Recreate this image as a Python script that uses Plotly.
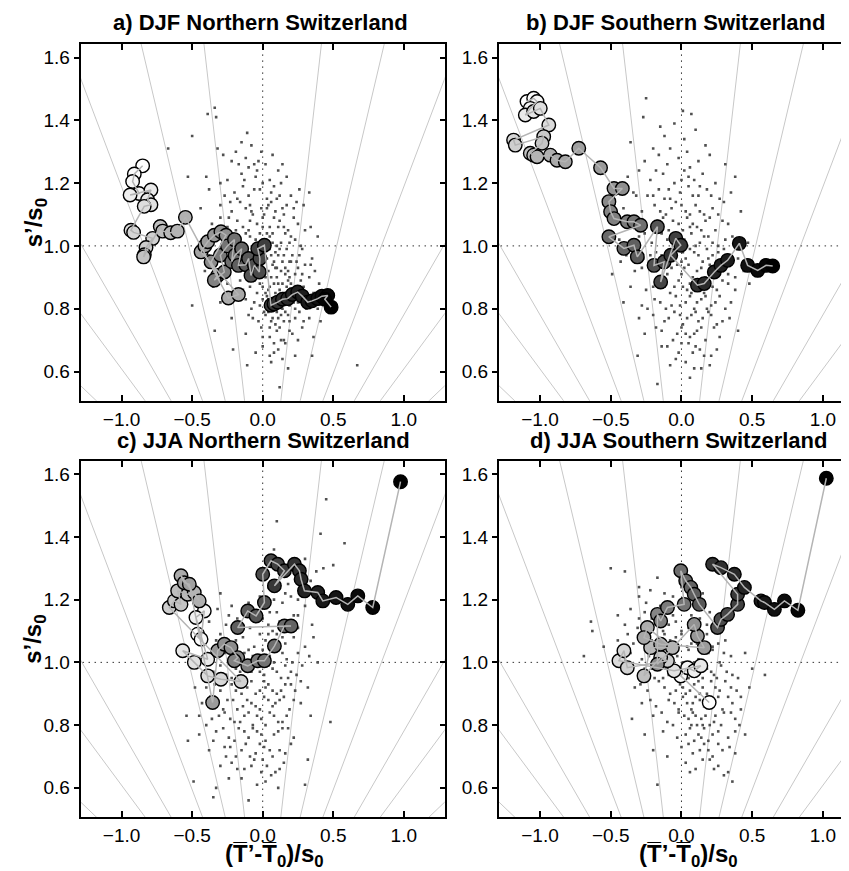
import plotly.graph_objects as go
from statistics import NormalDist

# ---------------- data ----------------
panel_titles = ["a) DJF Northern Switzerland", "b) DJF Southern Switzerland",
                "c) JJA Northern Switzerland", "d) JJA Southern Switzerland"]
x_ticks = [-1.0, -0.5, 0.0, 0.5, 1.0]
y_ticks = [0.6, 0.8, 1.0, 1.2, 1.4, 1.6]
quantile_probs = [0.6, 0.7, 0.8, 0.9, 0.95, 0.99]

# trajectories (ordered in time: first = white, last = black)
traj_a = [(-0.851,1.255),(-0.910,1.229),(-0.922,1.205),(-0.876,1.167),(-0.940,1.162),(-0.792,1.178),
          (-0.816,1.147),(-0.792,1.131),(-0.840,1.126),(-0.934,1.050),(-0.915,1.043),(-0.780,1.024),
          (-0.827,0.995),(-0.839,0.972),(-0.844,0.965),(-0.726,1.062),(-0.709,1.047),(-0.652,1.042),
          (-0.605,1.047),(-0.548,1.091),(-0.243,0.834),(-0.172,0.845),(-0.437,0.981),(-0.410,1.000),
          (-0.390,1.013),(-0.343,1.034),(-0.296,1.045),(-0.260,1.034),(-0.366,0.949),(-0.319,0.906),
          (-0.343,0.891),(-0.272,0.917),(-0.300,0.970),(-0.250,1.000),(-0.200,1.020),(-0.220,0.950),
          (-0.196,0.970),(-0.149,0.991),(-0.172,0.938),(-0.120,0.940),(-0.100,0.960),(-0.083,0.906),
          (-0.059,0.938),(-0.024,0.917),(-0.020,0.960),(-0.035,0.991),(0.012,1.002),(0.059,0.811),
          (0.080,0.815),(0.106,0.821),(0.140,0.830),(0.177,0.832),(0.210,0.845),(0.248,0.853),
          (0.280,0.840),(0.319,0.821),(0.350,0.825),(0.390,0.832),(0.420,0.840),(0.461,0.842),
          (0.440,0.830),(0.485,0.805)]
traj_b = [(-1.092,1.460),(-1.045,1.470),(-1.021,1.460),(-1.069,1.438),(-1.104,1.417),(-1.045,1.428),
          (-0.998,1.438),(-0.938,1.385),(-1.187,1.337),(-1.175,1.321),(-0.974,1.348),(-0.986,1.327),
          (-1.069,1.295),(-1.045,1.289),(-1.021,1.284),(-0.927,1.289),(-0.880,1.273),(-0.821,1.268),
          (-0.726,1.311),(-0.572,1.249),(-0.477,1.183),(-0.418,1.183),(-0.513,1.141),(-0.501,1.109),
          (-0.477,1.087),(-0.383,1.077),(-0.336,1.077),(-0.289,1.066),(-0.513,1.029),(-0.407,0.992),
          (-0.336,1.002),(-0.312,0.965),(-0.170,1.061),(-0.194,0.938),(-0.123,0.949),(-0.147,0.885),
          (-0.040,1.024),(-0.005,1.002),(-0.076,0.970),(0.113,0.875),(0.161,0.880),(0.232,0.917),
          (0.279,0.938),(0.326,0.954),(0.409,1.008),(0.468,0.938),(0.539,0.922),(0.598,0.938),
          (0.645,0.936)]
traj_c = [(-0.461,1.090),(-0.437,1.074),(-0.414,1.164),(-0.473,1.143),(-0.390,1.010),(-0.567,1.037),
          (-0.485,1.000),(-0.390,0.957),(-0.296,0.946),(-0.154,0.939),(-0.662,1.175),(-0.626,1.196),
          (-0.579,1.185),(-0.603,1.228),(-0.532,1.217),(-0.485,1.223),(-0.450,1.196),(-0.579,1.276),
          (-0.556,1.254),(-0.520,1.249),(-0.355,0.872),(-0.319,1.037),(-0.272,1.058),(-0.225,1.047),
          (-0.177,1.015),(-0.201,1.005),(-0.106,0.989),(-0.035,1.005),(0.012,1.005),(0.083,1.052),
          (0.154,1.116),(0.201,1.116),(-0.177,1.111),(-0.106,1.164),(-0.047,1.148),(0.012,1.191),
          (0.000,1.281),(0.059,1.324),(0.106,1.313),(0.154,1.292),(0.083,1.244),(0.225,1.313),
          (0.260,1.292),(0.272,1.265),(0.296,1.228),(0.390,1.223),(0.426,1.196),(0.520,1.207),
          (0.603,1.185),(0.674,1.212),(0.780,1.175),(0.977,1.576)]
traj_d = [(0.196,0.872),(-0.005,0.957),(0.043,0.983),(0.090,0.973),(0.137,0.989),(-0.052,0.973),
          (-0.442,1.005),(-0.407,1.037),(-0.383,0.983),(-0.099,1.005),(-0.147,1.016),(-0.265,0.957),
          (-0.218,1.047),(-0.064,1.047),(-0.241,1.111),(-0.265,1.079),(-0.147,1.058),(0.161,1.047),
          (0.113,1.084),(0.090,1.121),(-0.170,0.994),(-0.170,1.153),(-0.147,1.132),(-0.099,1.175),
          (0.019,1.185),(-0.005,1.292),(0.030,1.260),(0.066,1.239),(0.090,1.217),(0.126,1.185),
          (0.255,1.111),(0.279,1.137),(0.326,1.153),(0.397,1.185),(0.397,1.217),(0.220,1.313),
          (0.279,1.302),(0.374,1.281),(0.445,1.239),(0.562,1.196),(0.587,1.191),(0.657,1.169),
          (0.728,1.196),(0.823,1.166),(1.024,1.587)]

# clouds of individual values
cloud_a = [(-0.39,1.42),(-0.34,1.44),(-0.33,1.41),(-0.50,1.35),(-0.11,1.36),(-0.15,1.33),(-0.67,1.31),
 (-0.32,1.31),(-0.19,1.30),(-0.08,1.32),(-0.28,1.29),(-0.12,1.28),(-0.03,1.27),(-0.1,1.25),(-0.06,1.26),
 (0.02,1.26),(-0.22,1.27),(0.11,1.24),(-0.53,1.22),(-0.4,1.22),(-0.25,1.21),(-0.15,1.23),(-0.05,1.22),
 (0.0,1.2),(0.05,1.21),(0.17,1.22),(0.13,1.2),(-0.3,1.2),(-0.38,1.18),(-0.2,1.17),(-0.1,1.16),(-0.02,1.18),
 (0.06,1.17),(0.1,1.15),(0.2,1.16),(0.33,1.17),(-0.27,1.16),(0.03,1.15),(-0.14,1.19),(-0.44,1.12),(-0.3,1.13),
 (-0.22,1.11),(-0.16,1.14),(-0.07,1.1),(-0.01,1.12),(0.04,1.13),(0.09,1.11),(0.15,1.1),(0.22,1.12),(0.29,1.13),
 (-0.12,1.12),(0.01,1.1),(-0.36,1.07),(-0.25,1.06),(-0.18,1.08),(-0.1,1.05),(-0.04,1.07),(0.0,1.09),(0.05,1.06),
 (0.12,1.08),(0.18,1.05),(0.25,1.07),(0.34,1.06),(-0.3,1.09),(-0.14,1.06),(0.08,1.09),(0.22,1.09),(-0.43,1.02),
 (-0.31,1.03),(-0.2,1.01),(-0.12,1.04),(-0.06,1.0),(0.02,1.02),(0.07,1.04),(0.13,1.01),(0.2,1.03),(0.27,1.0),
 (0.39,1.03),(-0.16,1.02),(0.1,1.0),(0.16,1.04),(-0.02,1.04),(-0.38,0.97),(-0.27,0.96),(-0.17,0.98),(-0.08,0.95),
 (-0.03,0.99),(0.03,0.96),(0.09,0.98),(0.14,0.95),(0.21,0.97),(0.28,0.99),(0.35,0.96),(0.05,0.99),(0.17,0.99),
 (-0.12,0.96),(0.24,0.95),(0.0,0.97),(-0.41,0.92),(-0.29,0.91),(-0.2,0.93),(-0.1,0.9),(-0.04,0.94),(0.04,0.92),
 (0.1,0.9),(0.16,0.93),(0.23,0.91),(0.3,0.94),(0.37,0.92),(0.07,0.94),(0.13,0.92),(0.19,0.9),(-0.14,0.93),
 (0.01,0.91),(-0.35,0.87),(-0.25,0.88),(-0.14,0.86),(-0.06,0.89),(0.02,0.85),(0.08,0.88),(0.12,0.86),(0.18,0.89),
 (0.24,0.87),(0.31,0.85),(0.4,0.88),(0.05,0.87),(0.15,0.85),(0.21,0.86),(-0.02,0.88),(0.27,0.89),(-0.5,0.81),
 (-0.3,0.82),(-0.18,0.84),(-0.08,0.8),(0.0,0.83),(0.06,0.81),(0.11,0.84),(0.17,0.82),(0.23,0.8),(0.29,0.83),
 (0.36,0.81),(0.44,0.82),(0.14,0.8),(0.03,0.84),(0.2,0.84),(-0.22,0.77),(-0.1,0.78),(-0.03,0.76),(0.04,0.79),
 (0.09,0.75),(0.13,0.78),(0.19,0.76),(0.26,0.79),(0.33,0.77),(0.07,0.77),(0.16,0.79),(0.41,0.76),(-0.34,0.73),
 (-0.12,0.72),(-0.01,0.74),(0.05,0.71),(0.1,0.73),(0.15,0.7),(0.21,0.72),(0.28,0.74),(0.12,0.74),(0.36,0.71),
 (-0.21,0.67),(0.0,0.68),(0.08,0.66),(0.16,0.69),(0.23,0.65),(0.35,0.65),(0.11,0.67),(-0.11,0.62),(0.06,0.63),
 (0.18,0.61),(0.67,0.62),(0.12,0.55),(-0.09,1.08),(0.03,1.04),(0.11,1.06),(-0.05,1.02),(0.06,0.97),(0.12,0.99),
 (-0.01,0.95),(0.15,0.97),(0.09,0.93),(-0.07,0.92),(0.02,0.9),(0.18,0.92),(0.25,0.93),(0.11,0.88),(0.04,0.86),
 (-0.04,0.85),(0.2,0.88),(0.14,0.83),(0.08,0.82),(0.26,0.84),(0.1,0.79),(0.02,0.78),(0.18,0.78),(0.22,0.82),
 (-0.11,0.98),(-0.15,1.0),(-0.09,1.13),(0.06,1.14),(0.0,1.06),(0.14,1.12),(-0.19,1.05),(0.19,1.01),(0.07,1.01),
 (-0.02,0.98),(0.33,0.9),(0.31,0.8),(0.05,0.74),(-0.06,0.82),(0.09,0.85),(0.17,0.87),
 (-0.13,1.21),(-0.04,1.24),(0.08,1.19),(-0.18,1.15),(-0.06,1.18),(0.12,1.16),(0.24,1.14),(-0.24,1.09),
 (-0.08,1.11),(0.03,1.12),(0.17,1.13),(-0.21,1.04),(-0.09,1.03),(0.05,1.03),(0.15,1.06),(0.23,1.02),(0.3,1.05),
 (-0.24,0.99),(-0.14,0.99),(0.02,1.0),(0.11,0.97),(0.19,0.95),(0.26,0.97),(-0.19,0.95),(-0.06,0.97),(0.08,0.95),
 (0.16,0.91),(0.28,0.91),(0.34,0.94),(-0.16,0.89),(-0.09,0.87),(0.0,0.87),(0.06,0.9),(0.14,0.88),(0.22,0.85),
 (0.29,0.87),(0.36,0.85),(-0.12,0.83),(-0.02,0.81),(0.04,0.83),(0.12,0.82),(0.19,0.81),(0.25,0.82),(0.32,0.83),
 (0.39,0.8),(-0.07,0.77),(0.01,0.79),(0.06,0.76),(0.11,0.77),(0.15,0.76),(0.23,0.77),(0.29,0.76),(0.0,0.71),
 (0.08,0.69),(0.13,0.7),(0.19,0.73),(0.25,0.7),(-0.05,0.66),(0.05,0.65),(0.14,0.64),(-0.26,0.9),(-0.33,0.95),
 (-0.23,1.14),(0.26,1.18),(0.14,1.26),(-0.17,1.26),(0.07,1.29),(-0.01,1.3),(0.2,0.95),(0.1,0.93)]
cloud_b = [(-0.25,1.47),(-0.27,1.41),(0.01,1.43),(0.07,1.42),(-0.05,1.39),(-0.12,1.35),(0.1,1.37),(-0.36,1.33),
 (-0.2,1.31),(0.04,1.3),(0.17,1.32),(-0.08,1.31),(-0.26,1.27),(-0.1,1.26),(-0.02,1.28),(0.06,1.25),(0.2,1.29),
 (0.12,1.27),(-0.16,1.29),(0.31,1.26),(-0.38,1.22),(-0.22,1.21),(-0.13,1.23),(-0.05,1.2),(0.02,1.24),(0.09,1.21),
 (0.15,1.23),(0.24,1.2),(-0.3,1.24),(0.38,1.22),(0.0,1.21),(-0.34,1.17),(-0.24,1.16),(-0.16,1.18),(-0.08,1.15),
 (-0.01,1.17),(0.05,1.19),(0.12,1.16),(0.18,1.18),(0.27,1.15),(0.35,1.17),(-0.12,1.15),(0.08,1.16),(-0.41,1.12),
 (-0.28,1.11),(-0.19,1.13),(-0.11,1.1),(-0.04,1.14),(0.03,1.11),(0.1,1.13),(0.16,1.1),(0.22,1.12),(0.3,1.14),
 (-0.07,1.12),(0.06,1.1),(0.42,1.11),(-0.36,1.07),(-0.25,1.06),(-0.17,1.08),(-0.09,1.05),(-0.02,1.07),(0.04,1.09),
 (0.11,1.06),(0.17,1.08),(0.24,1.05),(0.33,1.07),(-0.13,1.09),(0.01,1.05),(0.08,1.07),(0.2,1.09),(-0.44,1.02),
 (-0.3,1.03),(-0.21,1.01),(-0.14,1.04),(-0.06,1.0),(0.02,1.02),(0.07,1.04),(0.13,1.01),(0.19,1.03),(0.26,1.0),
 (0.36,1.03),(0.47,1.01),(-0.03,1.04),(0.1,1.0),(-0.39,0.97),(-0.27,0.96),(-0.18,0.98),(-0.1,0.95),(-0.04,0.99),
 (0.03,0.96),(0.09,0.98),(0.15,0.95),(0.22,0.97),(0.3,0.99),(0.4,0.96),(-0.14,0.97),(0.0,0.95),(0.06,0.99),
 (0.18,0.99),(-0.49,0.91),(-0.33,0.92),(-0.23,0.94),(-0.15,0.9),(-0.07,0.93),(0.0,0.91),(0.05,0.94),(0.11,0.92),
 (0.17,0.9),(0.24,0.93),(0.33,0.91),(0.44,0.92),(-0.1,0.91),(0.08,0.9),(0.2,0.94),(-0.03,0.94),(-0.36,0.87),
 (-0.25,0.86),(-0.16,0.88),(-0.08,0.85),(-0.02,0.89),(0.04,0.86),(0.1,0.88),(0.16,0.85),(0.22,0.87),(0.29,0.89),
 (0.38,0.86),(-0.12,0.87),(0.07,0.85),(0.13,0.89),(0.01,0.87),(-0.41,0.82),(-0.28,0.81),(-0.19,0.83),(-0.11,0.8),
 (-0.04,0.84),(0.03,0.82),(0.09,0.8),(0.14,0.83),(0.21,0.81),(0.27,0.84),(0.35,0.82),(-0.07,0.81),(0.06,0.84),
 (0.18,0.8),(-0.3,0.77),(-0.2,0.78),(-0.12,0.76),(-0.05,0.79),(0.01,0.75),(0.07,0.78),(0.12,0.76),(0.19,0.79),
 (0.25,0.75),(0.34,0.77),(-0.01,0.78),(0.1,0.79),(-0.26,0.72),(-0.14,0.73),(-0.06,0.7),(0.0,0.74),(0.06,0.71),
 (0.11,0.73),(0.17,0.7),(0.23,0.74),(0.4,0.73),(0.03,0.72),(-0.31,0.65),(-0.1,0.68),(-0.02,0.66),(0.05,0.69),
 (0.13,0.67),(0.21,0.65),(0.08,0.66),(-0.08,0.62),(0.03,0.63),(0.14,0.61),(0.2,0.62),(-0.17,0.56),(0.06,0.58),
 (-0.18,1.24),(0.05,1.22),(0.13,1.19),(-0.09,1.18),(-0.2,1.16),(0.21,1.16),(-0.15,1.11),(0.0,1.13),(0.13,1.11),
 (0.26,1.1),(-0.32,1.09),(-0.06,1.08),(0.06,1.06),(0.14,1.05),(0.29,1.08),(-0.26,1.04),(-0.1,1.02),(0.04,1.0),
 (0.16,1.03),(0.22,1.01),(0.31,1.02),(-0.22,0.97),(-0.07,0.97),(0.01,0.98),(0.12,0.97),(0.19,0.96),(0.26,0.98),
 (0.35,0.95),(-0.28,0.93),(-0.12,0.93),(0.02,0.93),(0.14,0.93),(0.21,0.91),(0.29,0.93),(0.38,0.9),(-0.2,0.87),
 (-0.05,0.87),(0.06,0.88),(0.18,0.88),(0.25,0.86),(0.33,0.88),(-0.15,0.82),(-0.01,0.81),(0.11,0.82),(0.17,0.84),
 (0.24,0.82),(0.31,0.8),(-0.24,0.8),(-0.09,0.77),(0.04,0.77),(0.15,0.77),(0.21,0.78),(0.29,0.76),(-0.18,0.74),
 (-0.03,0.72),(0.09,0.72),(0.14,0.74),(0.27,0.71),(-0.14,0.68),(0.0,0.69),(0.1,0.68),(0.16,0.65),(0.25,0.67),
 (-0.04,0.64),(0.09,0.61),(-0.32,1.16),(-0.43,0.95),(0.48,0.88),(0.02,1.34),(-0.15,1.38)]
cloud_c = [(0.45,1.52),(0.1,1.45),(0.41,1.41),(0.58,1.38),(0.08,1.36),(0.43,1.3),(0.5,1.31),(0.22,1.33),(0.3,1.33),
 (0.12,1.27),(0.34,1.26),(0.38,1.29),(0.18,1.25),(-0.3,1.22),(0.2,1.21),(0.3,1.24),(0.08,1.2),(0.25,1.2),
 (-0.32,1.17),(-0.22,1.18),(0.05,1.16),(0.14,1.19),(0.22,1.15),(0.3,1.18),(-0.1,1.19),(-0.38,1.13),(-0.26,1.12),
 (-0.09,1.11),(0.0,1.14),(0.07,1.1),(0.12,1.13),(0.25,1.11),(0.35,1.12),(-0.18,1.14),(-0.33,1.07),(-0.24,1.06),
 (-0.14,1.08),(-0.06,1.05),(0.02,1.07),(0.1,1.09),(0.16,1.06),(0.22,1.08),(0.3,1.05),(-0.42,1.09),(0.04,1.09),
 (-0.37,1.02),(-0.27,1.03),(-0.18,1.01),(-0.1,1.04),(-0.03,1.0),(0.05,1.02),(0.11,1.04),(0.17,1.01),(0.25,1.03),
 (0.39,1.0),(-0.14,1.0),(0.0,1.04),(0.33,1.02),(-0.35,0.97),(-0.26,0.96),(-0.19,0.98),(-0.12,0.95),(-0.05,0.99),
 (0.01,0.96),(0.07,0.98),(0.13,0.95),(0.2,0.97),(0.28,0.99),(-0.08,0.97),(0.04,0.99),(0.16,0.99),(-0.22,0.95),
 (-0.4,0.92),(-0.3,0.91),(-0.22,0.93),(-0.15,0.9),(-0.08,0.94),(-0.02,0.91),(0.04,0.93),(0.1,0.9),(0.16,0.93),
 (0.23,0.91),(0.32,0.92),(-0.11,0.92),(0.01,0.94),(0.07,0.91),(-0.05,0.9),(-0.43,0.87),(-0.33,0.86),(-0.25,0.88),
 (-0.18,0.85),(-0.11,0.88),(-0.05,0.86),(0.01,0.89),(0.07,0.86),(0.12,0.88),(0.19,0.85),(0.27,0.87),(-0.14,0.86),
 (-0.02,0.85),(0.04,0.88),(-0.28,0.85),(-0.54,0.83),(-0.36,0.82),(-0.27,0.84),(-0.2,0.81),(-0.13,0.83),(-0.07,0.8),
 (-0.01,0.82),(0.05,0.84),(0.11,0.81),(0.17,0.83),(0.48,0.81),(-0.1,0.84),(0.02,0.8),(-0.23,0.82),(-0.45,0.77),
 (-0.33,0.78),(-0.24,0.76),(-0.17,0.79),(-0.1,0.76),(-0.04,0.78),(0.02,0.75),(0.08,0.77),(0.14,0.79),(0.22,0.76),
 (-0.2,0.75),(-0.07,0.79),(-0.53,0.75),(-0.38,0.72),(-0.27,0.73),(-0.19,0.7),(-0.12,0.74),(-0.05,0.71),(0.01,0.73),
 (0.07,0.7),(0.12,0.72),(0.2,0.74),(0.32,0.69),(-0.09,0.7),(-0.3,0.67),(-0.22,0.68),(-0.13,0.66),(-0.06,0.69),
 (0.03,0.67),(0.09,0.65),(0.15,0.68),(-0.01,0.65),(-0.49,0.62),(-0.33,0.6),(-0.15,0.63),(-0.04,0.61),(0.06,0.64),
 (0.3,0.61),(-0.35,0.57),(-0.1,0.56),
 (-0.24,1.15),(-0.05,1.16),(0.1,1.16),(-0.14,1.12),(0.04,1.12),(0.18,1.11),(-0.3,1.09),(-0.19,1.07),(-0.02,1.09),
 (0.07,1.05),(0.14,1.08),(-0.23,1.03),(-0.13,1.03),(-0.07,1.02),(0.08,1.0),(0.14,1.03),(0.21,1.0),(-0.3,0.99),
 (-0.16,0.97),(-0.02,0.97),(0.1,0.97),(0.18,0.95),(0.24,0.96),(-0.34,0.93),(-0.19,0.91),(-0.13,0.94),(0.02,0.92),
 (0.13,0.91),(0.2,0.93),(-0.37,0.89),(-0.21,0.88),(-0.08,0.87),(0.09,0.87),(0.15,0.89),(0.22,0.88),(-0.31,0.83),
 (-0.16,0.81),(-0.04,0.83),(0.08,0.83),(0.14,0.81),(-0.4,0.8),(-0.28,0.79),(-0.13,0.78),(-0.01,0.77),(0.11,0.78),
 (0.18,0.79),(-0.35,0.75),(-0.23,0.73),(-0.15,0.72),(-0.02,0.74),(0.05,0.72),(0.16,0.71),(-0.26,0.7),(-0.08,0.67),
 (0.0,0.69),(0.12,0.66),(-0.18,0.66),(-0.24,0.63),(0.02,0.62),(0.11,0.6),(0.25,1.15),(0.16,1.22),(0.28,1.28),
 (-0.02,1.21),(0.04,1.24),(0.36,1.08),(0.27,0.94),(0.34,0.83),(-0.48,0.92),(-0.45,0.83)]
cloud_d = [(-0.5,1.3),(-0.4,1.29),(-0.17,1.27),(0.05,1.27),(-0.3,1.21),(-0.22,1.23),(-0.12,1.22),(0.0,1.24),(0.1,1.2),
 (-0.06,1.21),(-0.36,1.17),(-0.26,1.16),(-0.15,1.18),(-0.06,1.15),(0.03,1.17),(0.12,1.19),(0.2,1.16),(-0.2,1.15),
 (-0.64,1.13),(-0.4,1.12),(-0.31,1.11),(-0.21,1.14),(-0.13,1.1),(-0.04,1.13),(0.05,1.11),(0.13,1.14),(0.22,1.1),
 (0.3,1.13),(-0.09,1.12),(0.0,1.1),(-0.63,1.1),(-0.45,1.07),(-0.34,1.06),(-0.25,1.08),(-0.17,1.05),(-0.08,1.07),
 (0.0,1.09),(0.07,1.06),(0.14,1.08),(0.22,1.05),(0.31,1.07),(-0.12,1.09),(0.04,1.05),(0.18,1.09),(-0.69,1.02),
 (-0.47,1.01),(-0.36,1.03),(-0.28,1.01),(-0.19,1.04),(-0.11,1.0),(-0.03,1.02),(0.05,1.04),(0.12,1.01),(0.19,1.03),
 (0.27,1.0),(0.35,1.02),(0.45,1.03),(-0.07,1.04),(0.09,1.0),(0.22,1.04),(-0.4,0.97),(-0.3,0.96),(-0.21,0.98),
 (-0.13,0.95),(-0.05,0.99),(0.02,0.96),(0.08,0.98),(0.15,0.95),(0.21,0.97),(0.28,0.99),(0.36,0.96),(0.59,0.96),
 (-0.09,0.96),(0.05,0.95),(0.12,0.99),(0.25,0.95),(-0.17,0.99),(-0.33,0.92),(-0.24,0.91),(-0.16,0.94),(-0.08,0.9),
 (-0.01,0.93),(0.06,0.91),(0.12,0.94),(0.18,0.9),(0.24,0.92),(0.31,0.94),(0.39,0.91),(0.48,0.92),(0.03,0.9),
 (0.09,0.93),(0.15,0.92),(0.21,0.94),(-0.04,0.91),(-0.28,0.87),(-0.18,0.86),(-0.09,0.88),(-0.02,0.85),(0.04,0.87),
 (0.1,0.89),(0.16,0.86),(0.23,0.88),(0.29,0.85),(0.36,0.87),(0.42,0.89),(0.07,0.85),(0.13,0.88),(0.26,0.89),
 (0.01,0.89),(-0.35,0.82),(-0.2,0.83),(-0.1,0.81),(-0.02,0.84),(0.05,0.82),(0.11,0.8),(0.17,0.83),(0.23,0.81),
 (0.3,0.84),(0.38,0.82),(0.08,0.84),(0.2,0.8),(0.14,0.82),(-0.26,0.77),(-0.13,0.78),(-0.03,0.76),(0.06,0.79),
 (0.12,0.77),(0.19,0.75),(0.26,0.78),(0.33,0.76),(0.45,0.77),(0.16,0.79),(0.09,0.75),(-0.2,0.72),(0.0,0.73),
 (0.08,0.71),(0.16,0.74),(0.22,0.7),(0.29,0.72),(0.38,0.71),(0.13,0.72),(0.03,0.68),(0.1,0.66),(0.2,0.69),
 (0.26,0.67),(0.33,0.65),(-0.17,0.61),(0.3,0.64),(0.36,0.62),
 (-0.25,1.19),(-0.1,1.19),(0.07,1.15),(-0.3,1.14),(-0.17,1.12),(0.09,1.13),(0.18,1.12),(-0.38,1.09),(-0.21,1.07),
 (-0.04,1.08),(0.11,1.06),(0.26,1.06),(-0.41,1.04),(-0.23,1.02),(-0.15,1.01),(0.01,1.0),(0.16,1.0),(0.3,1.03),
 (-0.35,0.99),(-0.26,0.98),(-0.11,0.98),(0.0,0.98),(0.18,0.98),(0.32,0.97),(-0.19,0.95),(-0.02,0.95),(0.1,0.96),
 (0.23,0.96),(0.4,0.95),(-0.29,0.93),(-0.12,0.92),(0.01,0.92),(0.13,0.9),(0.27,0.91),(0.35,0.92),(-0.22,0.88),
 (-0.05,0.87),(0.08,0.87),(0.19,0.87),(0.33,0.89),(-0.14,0.84),(0.02,0.83),(0.1,0.83),(0.24,0.83),(0.35,0.84),
 (-0.06,0.8),(0.07,0.8),(0.15,0.8),(0.28,0.8),(0.41,0.8),(0.03,0.77),(0.14,0.76),(0.22,0.77),(0.38,0.78),
 (0.05,0.74),(0.19,0.72),(0.26,0.74),(0.34,0.73),(0.15,0.69),(0.23,0.66),(-0.1,0.7),(0.06,0.65),(-0.45,1.15),
 (-0.55,1.05),(0.5,0.98),(0.42,0.85),(-0.3,1.24),(0.15,1.22)]

trajectories = [traj_a, traj_b, traj_c, traj_d]
clouds = [cloud_a, cloud_b, cloud_c, cloud_d]

# ---------------- layout geometry (pixels) ----------------
W, H = 849, 871
FONT = "Arial"
x_range_full = [-1.29, 1.29]
y_range = [0.507, 1.643]
px_left = [(72.7, 436.7, None), (491.0, 849.0, 1.241), (72.7, 436.7, None), (491.0, 849.0, 1.241)]
py_top = [(36.0, 392.7), (36.0, 392.7), (452.7, 809.0), (452.7, 809.0)]

fig = go.Figure()

for i in range(4):
    xa = "x" if i == 0 else f"x{i+1}"
    ya = "y" if i == 0 else f"y{i+1}"
    # radial lines of constant probability
    rx, ry = [], []
    for p in quantile_probs:
        k = NormalDist().inv_cdf(p)
        for s in (-1, 1):
            rx += [0, s * k * 2.0, None]
            ry += [0, 2.0, None]
    fig.add_trace(go.Scatter(x=rx, y=ry, mode="lines", xaxis=xa, yaxis=ya,
                             line=dict(color="#c8c8c8", width=1), hoverinfo="skip", showlegend=False))
    # dotted reference lines
    fig.add_trace(go.Scatter(x=[0, 0, None, -2, 2], y=[0, 2, None, 1, 1], mode="lines", xaxis=xa, yaxis=ya,
                             line=dict(color="#333333", width=1, dash="1.5px,4.5px"),
                             hoverinfo="skip", showlegend=False))
    # cloud
    cx = [p[0] for p in clouds[i]]
    cy = [p[1] for p in clouds[i]]
    fig.add_trace(go.Scatter(x=cx, y=cy, mode="markers", xaxis=xa, yaxis=ya,
                             marker=dict(symbol="square", size=2.6, color="#505050", line=dict(width=0)),
                             hoverinfo="skip", showlegend=False))
    # trajectory circles
    tr = trajectories[i]
    tx = [p[0] for p in tr]
    ty = [p[1] for p in tr]
    n = len(tr)
    cols = []
    for j in range(n):
        g = int(round(255 * (1 - j / (n - 1))))
        cols.append(f"rgb({g},{g},{g})")
    fig.add_trace(go.Scatter(x=tx, y=ty, mode="markers", xaxis=xa, yaxis=ya,
                             marker=dict(size=13.5, color=cols, line=dict(color="black", width=1.4)),
                             hoverinfo="skip", showlegend=False))
    fig.add_trace(go.Scatter(x=tx, y=ty, mode="lines", xaxis=xa, yaxis=ya,
                             line=dict(color="#b4b4b4", width=1.5), hoverinfo="skip", showlegend=False))

# dummy traces for right-side tick axes
fig.add_trace(go.Scatter(x=[0], y=[1], xaxis="x", yaxis="y5", mode="markers",
                         marker=dict(opacity=0), hoverinfo="skip", showlegend=False))
fig.add_trace(go.Scatter(x=[0], y=[1], xaxis="x3", yaxis="y6", mode="markers",
                         marker=dict(opacity=0), hoverinfo="skip", showlegend=False))

layout = dict(width=W, height=H, margin=dict(l=0, r=0, t=0, b=0),
              paper_bgcolor="white", plot_bgcolor="white", showlegend=False,
              font=dict(family=FONT, color="black"))

for i in range(4):
    xl, xr, xmax = px_left[i]
    yt, yb = py_top[i]
    xname = "xaxis" if i == 0 else f"xaxis{i+1}"
    yname = "yaxis" if i == 0 else f"yaxis{i+1}"
    xr_range = [x_range_full[0], xmax if xmax is not None else x_range_full[1]]
    layout[xname] = dict(domain=[xl / W, xr / W], range=xr_range, anchor="y" if i == 0 else f"y{i+1}",
                         tickvals=x_ticks, tickformat=".1f", ticks="inside", ticklen=6, tickwidth=1.5,
                         tickcolor="black", showline=True, linewidth=2, linecolor="black", mirror="ticks",
                         showgrid=False, zeroline=False, tickfont=dict(size=19, family=FONT, color="black"))
    layout[yname] = dict(domain=[1 - yb / H, 1 - yt / H], range=y_range, anchor="x" if i == 0 else f"x{i+1}",
                         tickvals=y_ticks, tickformat=".1f", ticks="outside", ticklen=5, tickwidth=1.5,
                         tickcolor="black", showline=True, linewidth=2, linecolor="black",
                         mirror=(i in (0, 2)), showgrid=False, zeroline=False,
                         tickfont=dict(size=19, family=FONT, color="black"))

for name, base, xa in (("yaxis5", "y", "x"), ("yaxis6", "y3", "x3")):
    layout[name] = dict(overlaying=base, side="right", anchor=xa, range=y_range, tickvals=y_ticks,
                        ticks="inside", ticklen=5, tickwidth=1.5, tickcolor="black",
                        showticklabels=False, showline=False, showgrid=False, zeroline=False)

annotations = []
title_centers = [(252, 14), (667, 14), (256, 432), (670, 432)]
for i, (cxp, cyp) in enumerate(title_centers):
    annotations.append(dict(text=f"<b>{panel_titles[i]}</b>", x=cxp / W, y=1 - cyp / H, xref="paper", yref="paper",
                            xanchor="center", yanchor="middle", showarrow=False,
                            font=dict(size=22, family=FONT, color="black")))
for cyp in ((36 + 392.7) / 2, (452.7 + 809) / 2):
    annotations.append(dict(text="<b>s’/s<sub>0</sub></b>", x=27 / W, y=1 - cyp / H, xref="paper", yref="paper",
                            xanchor="center", yanchor="middle", textangle=-90, showarrow=False,
                            font=dict(size=24, family=FONT, color="black")))
for cxp in (266, 680):
    annotations.append(dict(text="<b>(T\u0305’-T\u0305<sub>0</sub>)/s<sub>0</sub></b>", x=cxp / W, y=1 - 847 / H,
                            xref="paper", yref="paper", xanchor="center", yanchor="middle", showarrow=False,
                            font=dict(size=24, family=FONT, color="black")))
layout["annotations"] = annotations
fig.update_layout(**layout)

fig.write_html("out.html")
